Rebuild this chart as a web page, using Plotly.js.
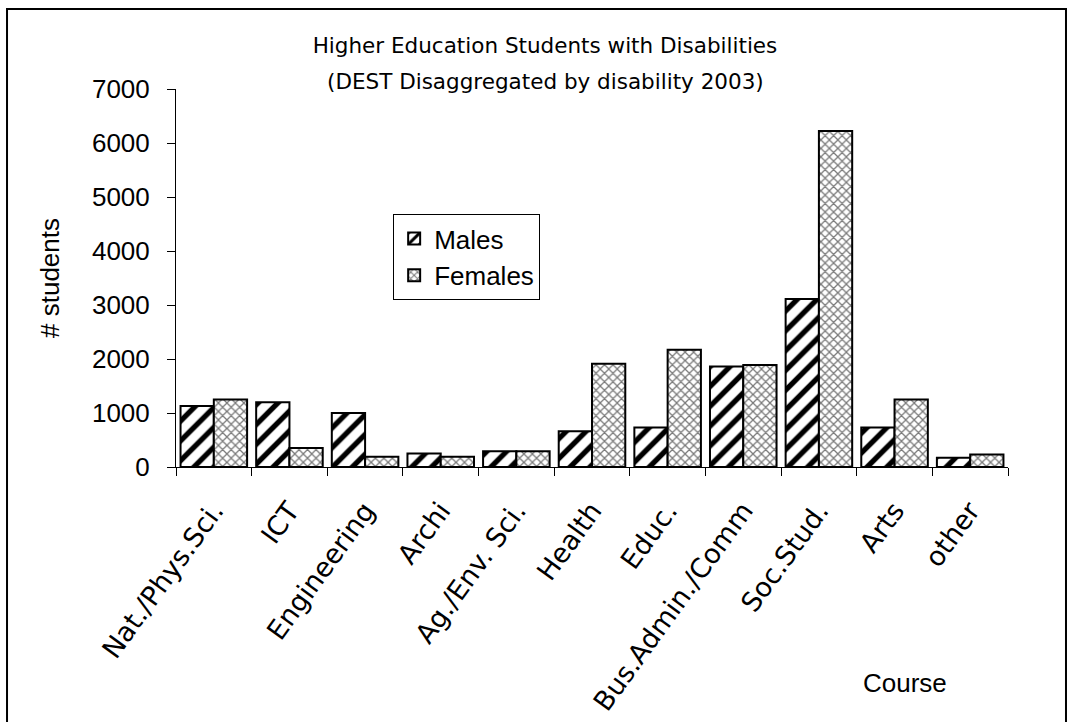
<!DOCTYPE html>
<html><head><meta charset="utf-8">
<script src="https://cdn.plot.ly/plotly-3.0.1.min.js"></script>
<style>body{margin:0;background:#fff}#chart{width:1070px;height:722px}</style>
</head><body><div id="chart"></div>
<script>
const categories = ["Nat./Phys.Sci.","ICT","Engineering","Archi","Ag./Env. Sci.","Health","Educ.","Bus.Admin./Comm","Soc.Stud.","Arts","other"];
const males   = [1130, 1200, 1000, 250, 290, 660, 730, 1860, 3110, 730, 170];
const females = [1250,  350,  190, 190, 290, 1910, 2170, 1890, 6220, 1250, 230];
const yTicks = [0,1000,2000,3000,4000,5000,6000,7000];
const titleLine1 = 'Higher Education Students with Disabilities';
const titleLine2 = '(DEST Disaggregated by disability 2003)';

const arial = 'Liberation Sans, Arial, sans-serif';
const verd = 'DejaVu Sans, sans-serif';

const traces = [
  {type:'bar', name:'Males', x:categories, y:males,
   marker:{color:'#ffffff', line:{color:'#000',width:2},
     pattern:{shape:'/', fgcolor:'#000', bgcolor:'#fff', size:14, solidity:0.38, fillmode:'replace'}}},
  {type:'bar', name:'Females', x:categories, y:females,
   marker:{color:'#ffffff', line:{color:'#000',width:2},
     pattern:{shape:'x', fgcolor:'#7a7a7a', bgcolor:'#fff', size:6, solidity:0.38, fillmode:'replace'}}}
];

const layout = {
  width:1070, height:722,
  margin:{l:176, r:62, t:89, b:255},
  paper_bgcolor:'#fff', plot_bgcolor:'#fff',
  font:{family:arial, color:'#000', size:26},
  barmode:'group', bargap:0.12, bargroupgap:0,
  showlegend:true,
  title:{text:titleLine1,
    font:{family:verd, size:21.5, color:'#000'},
    x:545/1070, xref:'container', xanchor:'center', y:1-45/722, yref:'container', yanchor:'middle'},
  xaxis:{type:'category', tickangle:-54, showline:true, linecolor:'#000', linewidth:1,
    ticks:'outside', tickson:'boundaries', ticklen:8, tickcolor:'#000', ticklabelstandoff:16,
    tickfont:{size:27, family:verd}, showgrid:false, zeroline:false},
  yaxis:{range:[0,7000], tickvals:yTicks, showline:true, linecolor:'#000', linewidth:1,
    ticks:'outside', ticklen:8, tickcolor:'#000', showgrid:false, zeroline:false, ticklabelstandoff:12,
    tickfont:{size:26, family:arial}, title:{text:'# students', font:{size:26, family:arial}, standoff:24}},
  legend:{x:0.261, y:0.669, xanchor:'left', yanchor:'top', bgcolor:'#fff',
    bordercolor:'#000', borderwidth:1, font:{size:26, family:arial}, itemwidth:30},
  annotations:[
    {text:titleLine2, xref:'paper', yref:'paper', x:(545-176)/832, y:(467-81)/378, showarrow:false,
     xanchor:'center', yanchor:'middle', font:{size:21.5, family:verd}},
    {text:'Course', xref:'paper', yref:'paper', x:(905-176)/832, y:-(683-467)/378, showarrow:false,
     xanchor:'center', yanchor:'middle', font:{size:26, family:arial}}],
  shapes:[{type:'rect', xref:'paper', yref:'paper', x0:-0.2031, x1:1.0697, y0:-0.72, y1:1.2116,
    line:{color:'#000', width:2}, fillcolor:'rgba(0,0,0,0)', layer:'below'}]
};

Plotly.newPlot('chart', traces, layout, {displayModeBar:false, staticPlot:true});
</script></body></html>
